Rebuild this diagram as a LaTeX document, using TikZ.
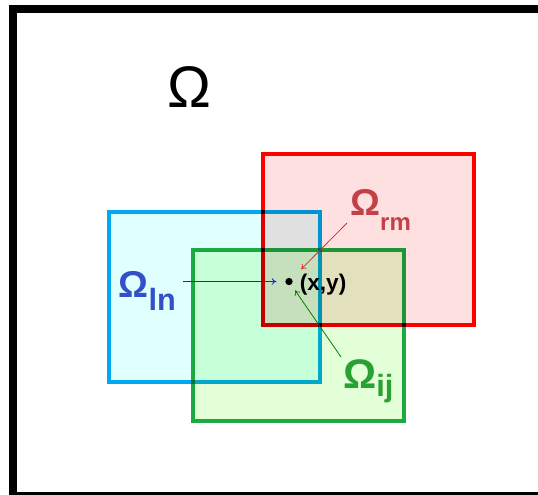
\documentclass[tikz,border=0pt]{standalone}
\usepackage{fontspec}
\setmainfont{Liberation Sans}
\usetikzlibrary{arrows.meta,positioning}
\definecolor{lnblue}{RGB}{0,168,240}
\definecolor{lnfill}{RGB}{224,255,255}
\definecolor{ijgreen}{RGB}{30,170,70}
\definecolor{ijfill}{RGB}{226,255,216}
\definecolor{rmred}{RGB}{255,0,0}
\definecolor{rmfill}{RGB}{255,224,224}
\definecolor{lntext}{RGB}{50,80,200}
\definecolor{ijtext}{RGB}{40,160,50}
\definecolor{rmtext}{RGB}{195,65,70}
\definecolor{lnarrow}{RGB}{30,30,230}
\definecolor{ijarrow}{RGB}{0,128,0}
\definecolor{rmarrow}{RGB}{235,40,40}

\begin{document}
\begin{tikzpicture}[
    x=0.75pt, y=-0.75pt,
    >={To[length=3.5pt,width=5pt]},
    region/.style={line width=3pt},
    arrow/.style={->, line width=0.6pt, shorten >=#1},
    arrow/.default=10pt,
    omlbl/.style={anchor=base west, inner sep=0pt},
]

\useasboundingbox (0,0) rectangle (538,494);
\clip (0,0) rectangle (538,494);

% === Domain frame ===
\draw[line width=6pt] (12.5,9) rectangle (570,495.5);

% === Subdomains ===
\begin{scope}[blend mode=multiply]
    \draw[region, draw=lnblue, fill=lnfill] (109,211.5) rectangle (319.7,382);
    \draw[region, draw=ijgreen, fill=ijfill] (192.7,250.3) rectangle (404.3,421);
    \draw[region, draw=rmred, fill=rmfill] (262.5,154) rectangle (473.5,325);
\end{scope}

% === Labels ===
\node[anchor=base, inner sep=0pt, font=\fontsize{44}{44}\selectfont]
    (omega) at (189,107) {Ω};
\node[omlbl, color=lntext, font=\fontsize{28}{28}\selectfont\bfseries]
    (lnlbl) at (118.5,297) {Ω{\fontsize{23}{23}\selectfont\raisebox{-9.75pt}{ln}}};
\node[omlbl, color=rmtext, font=\fontsize{28}{28}\selectfont\bfseries]
    (rmlbl) at (350,215) {Ω{\fontsize{18}{18}\selectfont\raisebox{-11.25pt}{rm}}};
\node[omlbl, color=ijtext, font=\fontsize{31}{31}\selectfont\bfseries]
    (ijlbl) at (343,388) {Ω{\fontsize{23}{23}\selectfont\raisebox{-6pt}{ij}}};

% === Point (x,y) ===
\node[circle, fill=black, inner sep=0pt, minimum size=5.5pt]
    (dot) at (289,281.5) {};
\node[omlbl, font=\fontsize{17}{17}\selectfont\bfseries]
    (xylbl) at (299.5,290) {(x,y)};

% === Arrows to the point ===
\coordinate (lntail) at (183,281.5);
\coordinate (rmtail) at (347,223);
\coordinate (ijtail) at (341,357);
\draw[arrow=9.5pt, color=lnarrow] (lntail) -- (dot.center);
\draw[arrow=13pt, color=rmarrow] (rmtail) -- (dot.center);
\draw[arrow=8pt, color=ijarrow] (ijtail) -- (dot.center);

\end{tikzpicture}
\end{document}
